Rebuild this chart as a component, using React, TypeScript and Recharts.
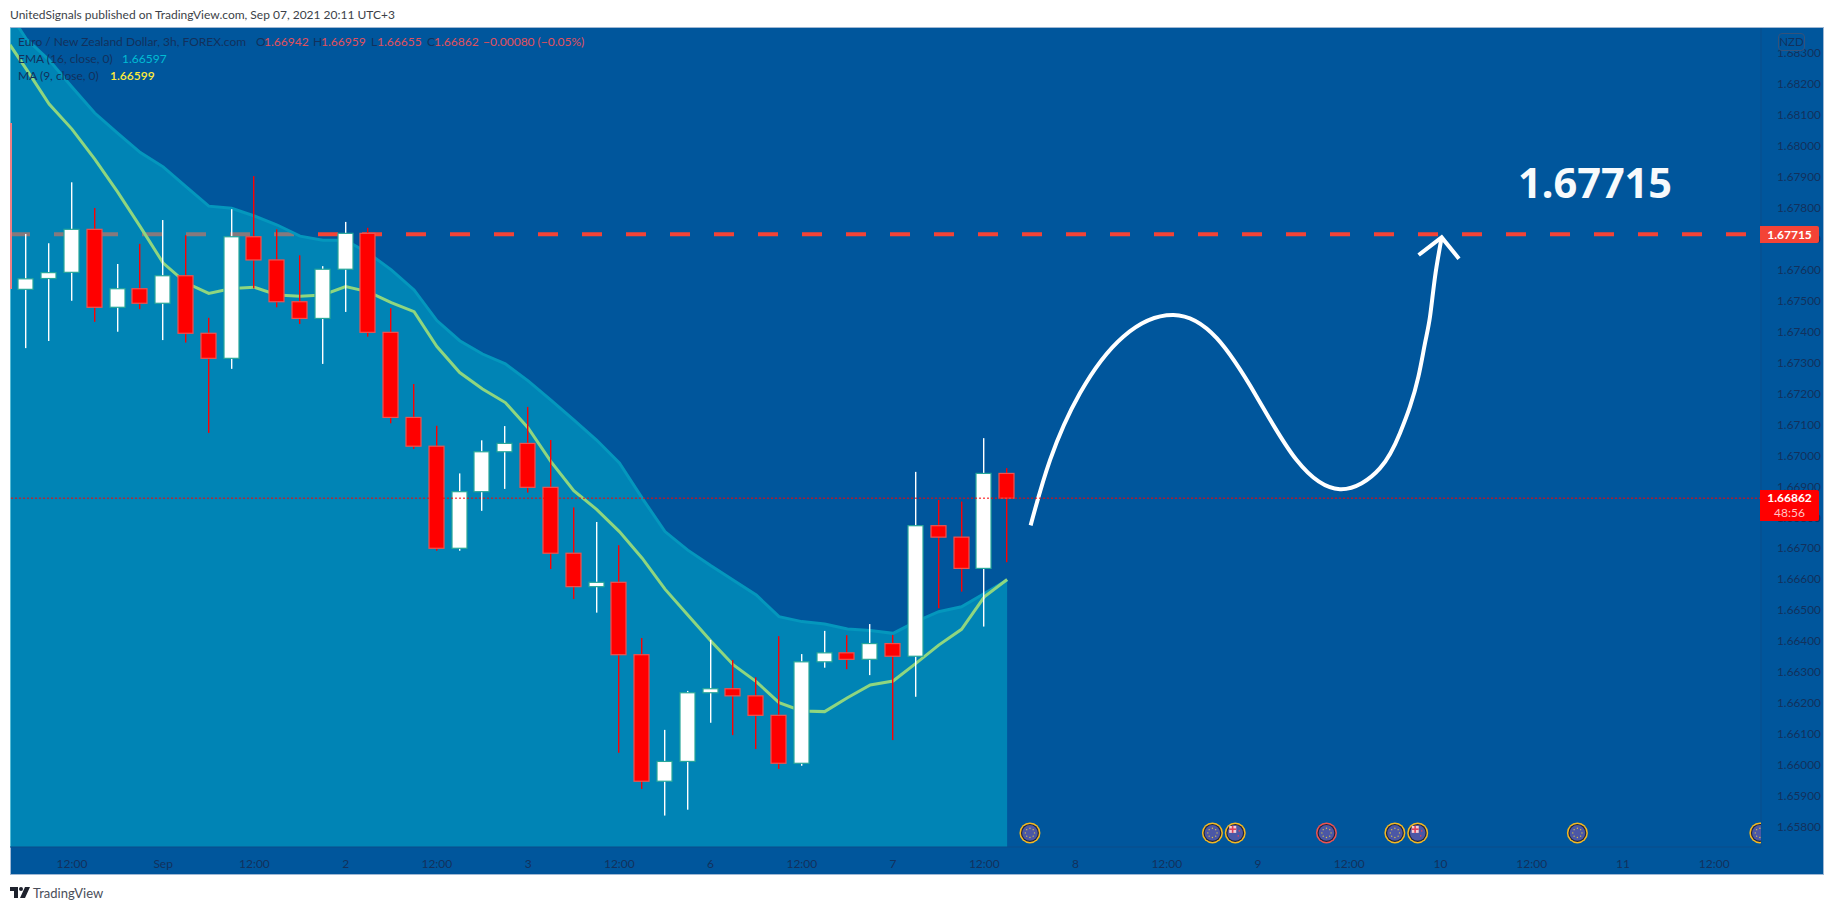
import { Area, Bar, ComposedChart, Line, ReferenceLine, XAxis, YAxis } from 'recharts';

const opens = [1.67537, 1.67572, 1.67592, 1.67731, 1.67479, 1.67539, 1.67492, 1.67581, 1.67395, 1.67314, 1.67707, 1.67632, 1.67497, 1.67443, 1.67602, 1.67718, 1.67398, 1.67123, 1.6703, 1.667, 1.66883, 1.67012, 1.67039, 1.66897, 1.66684, 1.66576, 1.6659, 1.66356, 1.65947, 1.66011, 1.66233, 1.66246, 1.66223, 1.6616, 1.66005, 1.66333, 1.66362, 1.66341, 1.66392, 1.66351, 1.66773, 1.66736, 1.66635, 1.66942];
const highs = [1.67716, 1.67686, 1.67883, 1.678, 1.67619, 1.67684, 1.67761, 1.67712, 1.67445, 1.67796, 1.67903, 1.67731, 1.67647, 1.67612, 1.67755, 1.67736, 1.67476, 1.67231, 1.67096, 1.66942, 1.67049, 1.67095, 1.67157, 1.6705, 1.66832, 1.66785, 1.6671, 1.6641, 1.66113, 1.66239, 1.66404, 1.66339, 1.66283, 1.66416, 1.66358, 1.66433, 1.66419, 1.66455, 1.6642, 1.66947, 1.66856, 1.66851, 1.67056, 1.66959];
const lows = [1.67347, 1.6737, 1.675, 1.67432, 1.674, 1.67473, 1.67373, 1.67365, 1.67073, 1.6728, 1.6754, 1.67479, 1.67425, 1.67296, 1.67464, 1.67384, 1.67104, 1.67021, 1.66692, 1.66692, 1.66821, 1.66892, 1.6688, 1.66633, 1.66536, 1.66492, 1.66039, 1.65922, 1.65836, 1.65855, 1.66136, 1.66096, 1.66051, 1.65987, 1.65997, 1.66314, 1.66309, 1.6629, 1.6608, 1.6622, 1.66506, 1.6656, 1.66447, 1.66655];
const closes = [1.67571, 1.67591, 1.67731, 1.67479, 1.67539, 1.67492, 1.67581, 1.67395, 1.67314, 1.67707, 1.67632, 1.67497, 1.67443, 1.67602, 1.67718, 1.67398, 1.67123, 1.6703, 1.667, 1.66883, 1.67012, 1.67039, 1.66897, 1.66684, 1.66576, 1.6659, 1.66356, 1.65947, 1.66011, 1.66233, 1.66246, 1.66223, 1.6616, 1.66005, 1.66333, 1.66362, 1.66341, 1.66392, 1.66351, 1.66773, 1.66736, 1.66635, 1.66942, 1.66862];
const emaValues = [1.68346, 1.68278, 1.68191, 1.68107, 1.68042, 1.67979, 1.67933, 1.67869, 1.67806, 1.67799, 1.67774, 1.67745, 1.67709, 1.67696, 1.67696, 1.67654, 1.676, 1.67535, 1.67436, 1.67371, 1.67328, 1.67296, 1.67241, 1.67179, 1.67115, 1.6705, 1.66976, 1.66862, 1.66754, 1.66694, 1.66644, 1.66597, 1.66549, 1.66479, 1.66463, 1.66455, 1.66439, 1.66434, 1.66425, 1.66463, 1.66495, 1.66511, 1.66554, 1.66597];
const maValues = [1.68249, 1.68136, 1.68055, 1.67958, 1.67852, 1.67739, 1.67622, 1.67558, 1.67524, 1.6754, 1.67544, 1.67519, 1.67515, 1.67519, 1.67546, 1.67529, 1.67494, 1.67465, 1.67352, 1.67268, 1.67215, 1.67171, 1.67089, 1.6698, 1.66886, 1.66826, 1.66754, 1.66668, 1.66568, 1.66484, 1.66401, 1.66323, 1.66269, 1.66201, 1.66174, 1.66172, 1.66217, 1.66258, 1.66271, 1.66328, 1.66387, 1.66438, 1.66543, 1.66599];

// the hand drawn projection
const curveIndex = [44.03, 44.88, 46.19, 48.09, 50.29, 52.19, 53.94, 55.69, 57.59, 59.35, 60.22, 60.66, 61.03, 61.32, 61.54, 61.76, 62.05];
const curvePrice = [1.66774, 1.66985, 1.67201, 1.67384, 1.67454, 1.67379, 1.6719, 1.66985, 1.66891, 1.66959, 1.67072, 1.67158, 1.67255, 1.67363, 1.67449, 1.67578, 1.67705];
const arrowIndex = [61.04, 62.05, 62.81];
const arrowPrice = [1.67648, 1.67705, 1.67636];

const eventIndex = [44, 52, 53, 57, 60, 61, 68, 76];
const eventFlag = ['eu', 'eu', 'nz', 'eu', 'eu', 'nz', 'eu', 'eu'];
const eventRing = ['#f5b921', '#f5b921', '#f5b921', '#ef5350', '#f5b921', '#f5b921', '#f5b921', '#f5b921'];
const eventPrice = 1.6578;

const priceTicks = [1.658, 1.659, 1.66, 1.661, 1.662, 1.663, 1.664, 1.665, 1.666, 1.667, 1.668, 1.669, 1.67, 1.671, 1.672, 1.673, 1.674, 1.675, 1.676, 1.677, 1.678, 1.679, 1.68, 1.681, 1.682, 1.683];
const timeTicks = [2, 6, 10, 14, 18, 22, 26, 30, 34, 38, 42, 46, 50, 54, 58, 62, 66, 70, 74];
const timeLabels = ['12:00', 'Sep', '12:00', '2', '12:00', '3', '12:00', '6', '12:00', '7', '12:00', '8', '12:00', '9', '12:00', '10', '12:00', '11', '12:00'];

const targetPrice = 1.67715;
const lastPrice = 1.66862;

const indexDomain = [-0.715, 76.05];
const priceDomain = [1.657344, 1.683818];

const rows: any[] = [
    { x: indexDomain[0], ema: 1.68427, ma: 1.68327, level: targetPrice },
    ...opens.map((open, i) => ({
        x: i,
        open,
        high: highs[i],
        low: lows[i],
        close: closes[i],
        ema: emaValues[i],
        ma: maValues[i],
    })),
    ...curveIndex.map((x, i) => ({ x, curve: curvePrice[i] })),
    ...arrowIndex.map((x, i) => ({ x, arrow: arrowPrice[i] })),
    ...eventIndex.map((x, i) => ({ x, event: eventPrice, flag: eventFlag[i], ring: eventRing[i] })),
    { x: indexDomain[1], level: targetPrice },
].sort((a, b) => a.x - b.x);

const FONT = 'Lato, sans-serif';
const TICK_COLOR = '#12315c';
const BG = '#00569c';

const Candle = (props: any) => {
    const { x, y, width, height, payload } = props;
    if (!payload || payload.open == null) return null;
    const top = Math.min(y, y + height);
    const h = Math.abs(height);
    const toY = (p: number) => top + ((payload.high - p) / (payload.high - payload.low)) * h;
    const center = Math.round(x + width / 2);
    const up = payload.close >= payload.open;
    const bodyTop = toY(Math.max(payload.open, payload.close));
    const bodyBottom = toY(Math.min(payload.open, payload.close));
    return (
        <g>
            <rect x={center - 1} y={top} width={1.4} height={h} fill={up ? '#ffffff' : '#ff0000'} />
            <rect
                x={center - 8}
                y={bodyTop}
                width={15}
                height={Math.max(bodyBottom - bodyTop, 2)}
                fill={up ? '#ffffff' : '#ff0000'}
                stroke={up ? '#26a69a' : '#ef5350'}
                strokeWidth={1.2}
            />
        </g>
    );
};

const starAngles = [0, 45, 90, 135, 180, 225, 270, 315];

const EventDot = (props: any) => {
    const { cx, cy, payload, index } = props;
    if (!payload || payload.event == null || cy == null) return <g key={`e-${index}`} />;
    return (
        <g key={`e-${index}`}>
            <circle cx={cx} cy={cy} r={10.5} fill={payload.ring} />
            <circle cx={cx} cy={cy} r={9} fill="#1b2340" />
            <circle cx={cx} cy={cy} r={7.8} fill="#4b57a6" />
            {payload.flag === 'eu' &&
                starAngles.map((a) => (
                    <circle
                        key={a}
                        cx={cx + 4.6 * Math.cos((a * Math.PI) / 180)}
                        cy={cy + 4.6 * Math.sin((a * Math.PI) / 180)}
                        r={0.7}
                        fill="#d9c24a"
                    />
                ))}
            {payload.flag === 'nz' && (
                <g>
                    <rect x={cx - 6} y={cy - 7} width={7} height={7} fill="#f3cdd6" />
                    <rect x={cx - 6} y={cy - 4.5} width={7} height={1.6} fill="#e0405a" />
                    <rect x={cx - 3.4} y={cy - 7} width={1.6} height={7} fill="#e0405a" />
                    <circle cx={cx + 4} cy={cy - 2} r={0.8} fill="#e0405a" />
                    <circle cx={cx + 3} cy={cy + 3} r={0.8} fill="#e0405a" />
                </g>
            )}
        </g>
    );
};

const legendText = (left: number, top: number, text: string, color: string, weight = 400) => (
    <span
        style={{
            position: 'absolute',
            left,
            top,
            color,
            fontWeight: weight,
            fontFamily: FONT,
            fontSize: 12,
            lineHeight: '16px',
            whiteSpace: 'nowrap',
        }}
    >
        {text}
    </span>
);

export default function App() {
    return (
        <div style={{ position: 'absolute', left: 0, top: 0, width: 1834, height: 910, background: '#fff', overflow: 'hidden' }}>
            <div style={{ position: 'absolute', left: 10, top: 7, fontFamily: FONT, fontSize: 12, lineHeight: '16px', color: '#3c3f48', whiteSpace: 'nowrap' }}>
                UnitedSignals published on TradingView.com, Sep 07, 2021 20:11 UTC+3
            </div>
            <div style={{ position: 'absolute', left: 10, top: 27, width: 1812, height: 846, background: BG, border: '1px solid #9fb8d4' }} />
            <div style={{ position: 'absolute', left: 0, top: 0 }}>
                <ComposedChart width={1834} height={910} data={rows} margin={{ top: 28, right: 11, bottom: 36, left: 10 }}>
                    <XAxis
                        dataKey="x"
                        type="number"
                        domain={indexDomain}
                        allowDataOverflow
                        ticks={timeTicks}
                        interval={0}
                        height={27}
                        tickLine={false}
                        tickMargin={6}
                        axisLine={{ stroke: '#0a4d8a' }}
                        tick={{ fill: TICK_COLOR, fontSize: 12, fontFamily: FONT }}
                        tickFormatter={(v: number) => timeLabels[timeTicks.indexOf(v)]}
                    />
                    <YAxis
                        orientation="right"
                        type="number"
                        domain={priceDomain}
                        allowDataOverflow
                        ticks={priceTicks}
                        interval={0}
                        width={62}
                        tickLine={false}
                        tickMargin={10}
                        axisLine={{ stroke: '#0a4d8a' }}
                        tick={{ fill: TICK_COLOR, fontSize: 11.8, fontFamily: FONT, textAnchor: 'start' }}
                        tickFormatter={(v: number) => v.toFixed(5)}
                    />
                    <Line zIndex={50} dataKey="level" type="linear" connectNulls stroke="#f44336" strokeWidth={4} strokeDasharray="20 24" dot={false} activeDot={false} isAnimationActive={false} />
                    <Area
                        zIndex={100}
                        dataKey="ema"
                        type="linear"
                        connectNulls
                        stroke="#0497bd"
                        strokeWidth={3}
                        fill="rgb(0,188,212)"
                        fillOpacity={0.45}
                        dot={false}
                        activeDot={false}
                        isAnimationActive={false}
                    />
                    <Line zIndex={200} dataKey="ma" type="linear" connectNulls stroke="#8fd67f" strokeWidth={3} dot={false} activeDot={false} isAnimationActive={false} />
                    <Bar zIndex={300} dataKey={(d: any) => (d.open == null ? null : [d.low, d.high])} barSize={16} shape={<Candle />} isAnimationActive={false} />
                    <Line dataKey="curve" type="natural" connectNulls stroke="#ffffff" strokeWidth={4} dot={false} activeDot={false} isAnimationActive={false} />
                    <Line dataKey="arrow" type="linear" connectNulls stroke="#ffffff" strokeWidth={4} dot={false} activeDot={false} isAnimationActive={false} />
                    <Line dataKey="event" stroke="none" dot={EventDot} activeDot={false} isAnimationActive={false} />
                    <ReferenceLine y={lastPrice} stroke="#ff0000" strokeWidth={1} strokeDasharray="2 2" />
                </ComposedChart>
            </div>

            <div style={{ position: 'absolute', left: 10, top: 123, width: 2, height: 166, background: '#ee7f85' }} />

            {legendText(18, 34, 'Euro / New Zealand Dollar, 3h, FOREX.com', '#12315c')}
            {legendText(256, 34, 'O', '#12315c')}
            {legendText(264, 34, '1.66942', '#e0505c')}
            {legendText(313, 34, 'H', '#12315c')}
            {legendText(321, 34, '1.66959', '#e0505c')}
            {legendText(371, 34, 'L', '#12315c')}
            {legendText(377, 34, '1.66655', '#e0505c')}
            {legendText(427, 34, 'C', '#12315c')}
            {legendText(434, 34, '1.66862', '#e0505c')}
            {legendText(483, 34, '\u22120.00080 (\u22120.05%)', '#e0505c')}
            {legendText(18, 51, 'EMA (16, close, 0)', '#12315c')}
            {legendText(122, 51, '1.66597', '#00bcd4')}
            {legendText(18, 68, 'MA (9, close, 0)', '#12315c')}
            {legendText(110, 68, '1.66599', '#ffeb3b', 600)}

            <div style={{ position: 'absolute', left: 1518, top: 155, fontFamily: '"Noto Sans", sans-serif', fontWeight: 700, fontSize: 41.5, lineHeight: '54px', color: '#f7fafc' }}>1.67715</div>

            <div style={{ position: 'absolute', left: 1778, top: 33, width: 25, height: 16, border: '1px solid #35527a', borderRadius: 4, background: BG, color: TICK_COLOR, fontFamily: FONT, fontSize: 11.5, lineHeight: '16px', textAlign: 'center' }}>NZD</div>

            <div style={{ position: 'absolute', left: 1760, top: 226, width: 59, height: 17, borderRadius: '0 2px 2px 0', background: '#f44336', color: '#fff', fontFamily: FONT, fontWeight: 700, fontSize: 12, lineHeight: '17px', textAlign: 'center' }}>1.67715</div>

            <div style={{ position: 'absolute', left: 1760, top: 490, width: 59, height: 31, borderRadius: '0 2px 2px 0', background: '#ff0000', fontFamily: FONT, fontSize: 12, lineHeight: '15px', textAlign: 'center' }}>
                <div style={{ color: '#fff', fontWeight: 700 }}>1.66862</div>
                <div style={{ color: '#ffc4c4' }}>48:56</div>
            </div>

            <svg style={{ position: 'absolute', left: 10, top: 887 }} width={20} height={11} viewBox="0 0 20 11">
                <path d="M0 0H8V11H4V4H0Z M15 0H20L15 11H10Z" fill="#1e222d" />
                <circle cx={11} cy={2} r={2} fill="#1e222d" />
            </svg>
            <div style={{ position: 'absolute', left: 33, top: 884, fontFamily: FONT, fontSize: 13, lineHeight: '18px', color: '#4a4e59' }}>TradingView</div>
        </div>
    );
}
